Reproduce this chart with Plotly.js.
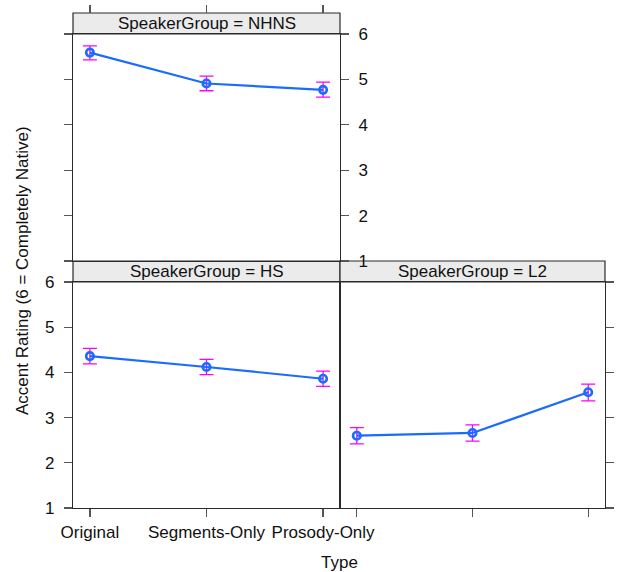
<!DOCTYPE html>
<html><head><meta charset="utf-8">
<script src="https://cdn.plot.ly/plotly-3.0.1.min.js"></script>
<style>html,body{margin:0;padding:0;background:#fff}</style>
</head><body>
<div id="chart" style="width:617px;height:572px"></div>
<script>
const types = ["Original", "Segments-Only", "Prosody-Only"];
const groups = ["NHNS", "HS", "L2"];
const fitNHNS = [5.59, 4.91, 4.77];
const upperNHNS = [5.74, 5.07, 4.94];
const lowerNHNS = [5.43, 4.75, 4.61];
const fitHS = [4.36, 4.12, 3.86];
const upperHS = [4.53, 4.29, 4.03];
const lowerHS = [4.19, 3.95, 3.69];
const fitL2 = [2.60, 2.66, 3.56];
const upperL2 = [2.78, 2.84, 3.74];
const lowerL2 = [2.42, 2.48, 3.37];
const yTicks = [1, 2, 3, 4, 5, 6];

const W = 617, H = 572;
const px = v => v / W, py = v => 1 - v / H;
const FONT = "Liberation Sans, Arial, sans-serif";
const lineCol = "#1a6cff", errCol = "#ff00ff", frame = "#2a2a2a";

function tr(fit, up, lo, xa, ya) {
  return {
    type: "scatter", mode: "lines+markers", x: types, y: fit,
    xaxis: xa, yaxis: ya,
    line: {color: lineCol, width: 2.2},
    marker: {symbol: "circle-open", size: 7.5, color: lineCol, line: {width: 2.6, color: lineCol}},
    error_y: {type: "data", symmetric: false,
      array: up.map((u, i) => u - fit[i]),
      arrayminus: lo.map((l, i) => fit[i] - l),
      color: errCol, thickness: 1.3, width: 7},
    showlegend: false, hoverinfo: "skip"
  };
}
const data = [
  tr(fitNHNS, upperNHNS, lowerNHNS, "x", "y"),
  tr(fitHS, upperHS, lowerHS, "x2", "y2"),
  tr(fitL2, upperL2, lowerL2, "x3", "y3"),
  {type: "scatter", mode: "markers", x: types, y: fitNHNS, xaxis: "x4", yaxis: "y",
   marker: {opacity: 0}, showlegend: false, hoverinfo: "skip"}
];

const xr = [-0.145, 2.145];
const yr = [1, 6];
const tickFont = {family: FONT, size: 17, color: "#111"};
const base = {showgrid: false, zeroline: false, showline: true, linecolor: frame, linewidth: 1.2,
  ticks: "outside", ticklen: 8, tickcolor: "#555", tickwidth: 1.2, tickfont: tickFont, fixedrange: true};

const layout = {
  width: W, height: H, margin: {l: 0, r: 0, t: 0, b: 0},
  paper_bgcolor: "#fff", plot_bgcolor: "#fff",
  font: {family: FONT, size: 17, color: "#111"},
  xaxis: Object.assign({}, base, {domain: [px(73), px(340)], range: xr, type: "category", categoryarray: types,
    anchor: "y", mirror: true, ticks: "", showticklabels: false}),
  yaxis: Object.assign({}, base, {domain: [py(261), py(34)], range: yr, anchor: "x", side: "right",
    tickvals: yTicks, mirror: "ticks", ticklabelstandoff: 6}),
  xaxis4: Object.assign({}, base, {overlaying: "x", range: xr, type: "category", categoryarray: types,
    anchor: "free", position: py(13), side: "top", showline: false, showticklabels: false}),
  xaxis2: Object.assign({}, base, {domain: [px(73), px(340)], range: xr, type: "category", categoryarray: types,
    anchor: "y2", mirror: true, ticklabelstandoff: 0}),
  yaxis2: Object.assign({}, base, {domain: [py(508), py(282)], range: yr, anchor: "x2", side: "left",
    tickvals: yTicks, mirror: true, ticklabelstandoff: 6}),
  xaxis3: Object.assign({}, base, {domain: [px(340), px(605)], range: xr, type: "category", categoryarray: types,
    anchor: "y3", mirror: true, showticklabels: false}),
  yaxis3: Object.assign({}, base, {domain: [py(508), py(282)], range: yr, anchor: "x3", side: "right",
    tickvals: yTicks, mirror: true, showticklabels: false}),
  shapes: [
    {type: "rect", xref: "paper", yref: "paper", x0: px(73), x1: px(340), y0: py(34), y1: py(13), layer: "below",
     fillcolor: "#ebebeb", line: {color: frame, width: 1.2}},
    {type: "rect", xref: "paper", yref: "paper", x0: px(73), x1: px(340), y0: py(282), y1: py(261), layer: "below",
     fillcolor: "#ebebeb", line: {color: frame, width: 1.2}},
    {type: "rect", xref: "paper", yref: "paper", x0: px(340), x1: px(605), y0: py(282), y1: py(261), layer: "below",
     fillcolor: "#ebebeb", line: {color: frame, width: 1.2}}
  ],
  annotations: [
    {xref: "paper", yref: "paper", x: px(206.5), y: py(23.5), text: "SpeakerGroup = " + groups[0],
     showarrow: false, font: {family: FONT, size: 17, color: "#111"}, xanchor: "center", yanchor: "middle"},
    {xref: "paper", yref: "paper", x: px(206.5), y: py(271.5), text: "SpeakerGroup = " + groups[1],
     showarrow: false, font: {family: FONT, size: 17, color: "#111"}, xanchor: "center", yanchor: "middle"},
    {xref: "paper", yref: "paper", x: px(472.5), y: py(271.5), text: "SpeakerGroup = " + groups[2],
     showarrow: false, font: {family: FONT, size: 17, color: "#111"}, xanchor: "center", yanchor: "middle"},
    {xref: "paper", yref: "paper", x: px(339), y: py(562), text: "Type",
     showarrow: false, font: {family: FONT, size: 17, color: "#111"}, xanchor: "center", yanchor: "middle"},
    {xref: "paper", yref: "paper", x: px(22), y: py(271), text: "Accent Rating (6 = Completely Native)",
     textangle: -90, showarrow: false, font: {family: FONT, size: 17, color: "#111"}, xanchor: "center", yanchor: "middle"}
  ]
};
Plotly.newPlot("chart", data, layout, {staticPlot: true, displayModeBar: false});
</script>
</body></html>
